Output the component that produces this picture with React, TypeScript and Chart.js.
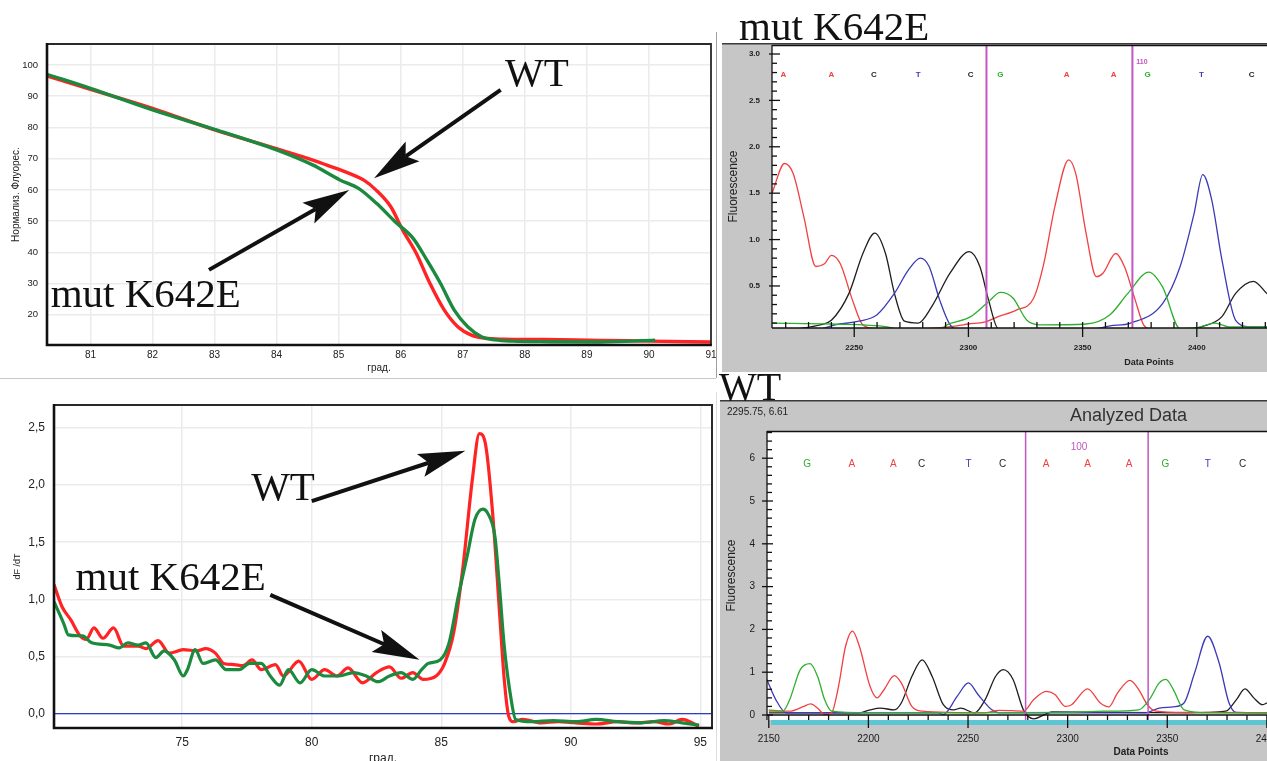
import React, { useEffect, useRef } from "react";
import { Chart, registerables } from "chart.js";
Chart.register(...registerables);

// ---------------- data: melting curves (top-left) ----------------
const meltTempWT = [80.3, 81.0, 82.0, 83.0, 84.0, 84.5, 84.8, 85.17, 85.4, 85.6, 85.84, 86.03, 86.25, 86.47, 86.7, 86.92, 87.14, 87.36, 87.66, 88.3, 89.2, 90.0, 91.0];
const meltFluoWT = [96.5, 92.2, 86.1, 79.2, 73.2, 70.1, 68.0, 65.3, 63.2, 60.0, 54.6, 47.2, 39.7, 30.1, 21.6, 16.2, 13.5, 12.5, 12.2, 12.1, 11.8, 11.6, 11.3];
const meltTempMut = [80.3, 81.0, 82.0, 83.0, 84.0, 84.58, 85.02, 85.32, 85.61, 85.91, 86.2, 86.42, 86.64, 86.86, 87.08, 87.3, 87.52, 87.8, 88.4, 89.2, 90.1];
const meltFluoMut = [97.0, 92.5, 85.6, 79.4, 72.8, 68.0, 63.2, 60.5, 55.7, 49.8, 44.5, 37.6, 30.1, 21.6, 16.2, 13.0, 12.0, 11.6, 11.4, 11.3, 11.9];
const meltTicksX = [81, 82, 83, 84, 85, 86, 87, 88, 89, 90, 91];
const meltTicksY = [20, 30, 40, 50, 60, 70, 80, 90, 100];

// ---------------- data: derivative curves (bottom-left) ----------------
const derivTempWT = [70.05, 70.35, 70.7, 71.06, 71.3, 71.59, 71.94, 72.35, 72.74, 73.3, 73.6, 74.07, 74.5, 75.04, 75.57, 75.9, 76.28, 76.6, 77.0, 77.34, 77.7, 78.05, 78.6, 78.9, 79.5, 80.0, 80.5, 80.97, 81.4, 81.96, 82.5, 83.0, 83.45, 83.9, 84.3, 84.8, 85.13, 85.48, 85.84, 86.2, 86.47, 86.72, 86.98, 87.25, 87.43, 87.6, 87.78, 88.14, 88.85, 89.5, 90.2, 91.0, 91.8, 92.5, 93.2, 93.8, 94.3, 94.95];
const derivValWT = [1.13, 0.94, 0.82, 0.68, 0.65, 0.75, 0.66, 0.75, 0.59, 0.59, 0.57, 0.64, 0.53, 0.56, 0.55, 0.57, 0.53, 0.44, 0.43, 0.42, 0.47, 0.385, 0.43, 0.33, 0.46, 0.30, 0.385, 0.33, 0.40, 0.27, 0.36, 0.41, 0.31, 0.36, 0.30, 0.33, 0.44, 0.71, 1.29, 2.05, 2.45, 2.34, 1.76, 0.88, 0.30, -0.02, -0.07, -0.05, -0.08, -0.07, -0.08, -0.09, -0.07, -0.08, -0.07, -0.09, -0.05, -0.11];
const derivTempMut = [70.05, 70.44, 70.6, 71.15, 71.5, 72.2, 72.56, 72.9, 73.3, 73.6, 73.98, 74.3, 74.7, 75.04, 75.2, 75.5, 75.8, 76.28, 76.7, 77.2, 77.6, 78.05, 78.4, 78.76, 79.1, 79.55, 80.0, 80.5, 81.06, 81.6, 82.1, 82.56, 83.0, 83.45, 83.9, 84.24, 84.5, 84.95, 85.3, 85.66, 86.0, 86.3, 86.6, 86.8, 87.07, 87.25, 87.43, 87.7, 87.87, 88.5, 89.3, 90.2, 90.97, 91.8, 92.7, 93.6, 94.3, 94.95];
const derivValMut = [0.98, 0.78, 0.69, 0.68, 0.62, 0.60, 0.575, 0.62, 0.60, 0.62, 0.49, 0.55, 0.47, 0.33, 0.385, 0.56, 0.44, 0.47, 0.385, 0.385, 0.44, 0.44, 0.33, 0.25, 0.385, 0.27, 0.385, 0.33, 0.33, 0.36, 0.33, 0.28, 0.33, 0.36, 0.30, 0.385, 0.44, 0.47, 0.62, 1.03, 1.38, 1.70, 1.79, 1.75, 1.55, 1.10, 0.59, 0.12, -0.05, -0.07, -0.06, -0.07, -0.05, -0.07, -0.08, -0.06, -0.08, -0.10];
const derivTicksX = [75, 80, 85, 90, 95];
const derivTicksY = [0, 0.5, 1, 1.5, 2, 2.5];

// ---------------- data: mutant chromatogram (top-right) ----------------
const mutRedPos = [2214, 2219.5, 2223.3, 2227.9, 2233.2, 2237, 2240, 2243.9, 2249.2, 2253.8, 2260, 2280, 2295, 2300, 2307, 2313, 2321, 2328.6, 2333, 2337.8, 2343.9, 2347, 2351.5, 2356, 2359, 2364.5, 2368.3, 2373, 2376.7, 2380];
const mutRedSig = [1.50, 1.82, 1.71, 1.25, 0.71, 0.74, 0.83, 0.74, 0.35, 0.08, 0.04, 0.04, 0.07, 0.09, 0.11, 0.17, 0.24, 0.37, 0.74, 1.35, 1.86, 1.71, 1.07, 0.60, 0.64, 0.85, 0.71, 0.35, 0.08, 0.03];
const mutBlackPos = [2226, 2235, 2240, 2247.7, 2253.8, 2259, 2263.7, 2267.6, 2272, 2278, 2284, 2292, 2300.4, 2305, 2308.8, 2313, 2320, 2398, 2402, 2411, 2417, 2424.8, 2430.6, 2436];
const mutBlackSig = [0.04, 0.08, 0.13, 0.42, 0.85, 1.07, 0.85, 0.42, 0.12, 0.10, 0.28, 0.64, 0.87, 0.71, 0.35, 0.04, 0.02, 0.04, 0.06, 0.17, 0.42, 0.55, 0.42, 0.30];
const mutBluePos = [2236, 2241.6, 2252, 2260, 2267.6, 2273.7, 2279, 2282.8, 2287.4, 2292, 2296, 2355, 2362, 2371, 2385, 2392.7, 2398.8, 2402.6, 2406.5, 2411, 2417, 2423, 2436];
const mutBlueSig = [0.04, 0.08, 0.12, 0.19, 0.42, 0.67, 0.80, 0.71, 0.35, 0.08, 0.03, 0.04, 0.07, 0.10, 0.31, 0.71, 1.28, 1.70, 1.43, 0.78, 0.13, 0.06, 0.06];
const mutGreenPos = [2214, 2240, 2264.5, 2270, 2288, 2290.5, 2301, 2308.8, 2314, 2319.5, 2325.6, 2331.7, 2351.5, 2362, 2369.8, 2379, 2385, 2392.7, 2400, 2408, 2414, 2436];
const mutGreenSig = [0.10, 0.09, 0.06, 0.03, 0.04, 0.08, 0.17, 0.33, 0.43, 0.37, 0.13, 0.08, 0.09, 0.19, 0.42, 0.65, 0.49, 0.04, 0.05, 0.10, 0.06, 0.06];
const mutBases = ["A", "A", "C", "T", "C", "G", "A", "A", "G", "T", "C"];
const mutBasePos = [2219, 2240, 2258.6, 2278, 2301, 2314, 2343, 2363.6, 2378.5, 2402, 2424];
const mutMarkers = [2307.9, 2371.8];
const mutMarkerLabel = "110";
const mutTicksX = [2250, 2300, 2350, 2400];
const mutTicksY = [0.5, 1.0, 1.5, 2.0, 2.5, 3.0];

// ---------------- data: wild-type chromatogram (bottom-right) ----------------
const wtGreenPos = [2150, 2157, 2160.5, 2165.8, 2170.7, 2174.5, 2178, 2181.5, 2200, 2248, 2300, 2318, 2335.6, 2341, 2346, 2349.3, 2353, 2358.4, 2370.7, 2411];
const wtGreenSig = [0.12, 0.09, 0.36, 1.06, 1.20, 0.90, 0.36, 0.09, 0.05, 0.05, 0.06, 0.09, 0.12, 0.36, 0.75, 0.83, 0.60, 0.12, 0.05, 0.05];
const wtRedPos = [2150, 2160.5, 2167.5, 2171, 2174.5, 2178, 2181.5, 2185, 2188.5, 2192, 2195.5, 2200.8, 2204.3, 2207.8, 2213, 2216.5, 2221.8, 2227, 2258, 2265.6, 2277.8, 2283, 2289.2, 2293.6, 2298.9, 2302, 2310, 2316.4, 2320.7, 2325, 2331.3, 2335.6, 2340, 2344.4, 2360, 2411];
const wtRedSig = [0.09, 0.09, 0.20, 0.26, 0.16, 0.01, 0.05, 0.67, 1.60, 1.96, 1.60, 0.67, 0.40, 0.59, 0.92, 0.75, 0.20, 0.09, 0.05, 0.11, 0.09, 0.36, 0.55, 0.48, 0.20, 0.24, 0.61, 0.28, 0.19, 0.51, 0.81, 0.60, 0.24, 0.09, 0.06, 0.05];
const wtBlackPos = [2150, 2195.5, 2200.8, 2206, 2213, 2216.5, 2221.8, 2227, 2232, 2237.6, 2242.8, 2246.3, 2253.3, 2258.6, 2263.8, 2267.7, 2272.6, 2277.8, 2283, 2288.4, 2292, 2360, 2379.4, 2384.7, 2389, 2393.4, 2397.8, 2400, 2405];
const wtBlackSig = [0.05, 0.05, 0.12, 0.16, 0.12, 0.28, 0.90, 1.29, 0.90, 0.24, 0.12, 0.16, 0.05, 0.36, 0.90, 1.06, 0.83, 0.12, -0.09, 0.01, 0.07, 0.05, 0.09, 0.36, 0.61, 0.40, 0.24, 0.28, 0.35];
const wtBluePos = [2149, 2153.5, 2158.8, 2235, 2237.6, 2244.6, 2250.2, 2255, 2262, 2265.6, 2339, 2346, 2353, 2358.4, 2363.7, 2370.3, 2376, 2381, 2384.7, 2411];
const wtBlueSig = [0.83, 0.36, 0.05, 0.05, 0.01, 0.44, 0.75, 0.48, 0.12, 0.05, 0.05, 0.16, 0.19, 0.28, 0.98, 1.84, 1.22, 0.28, 0.06, 0.05];
const wtBases = ["G", "A", "A", "C", "T", "C", "A", "A", "A", "G", "T", "C"];
const wtBasePos = [2169.2, 2191.7, 2212.5, 2226.7, 2250.2, 2267.3, 2289.2, 2310, 2330.8, 2349, 2370.3, 2387.8];
const wtMarkers = [2278.9, 2340.4];
const wtMarkerLabel = "100";
const wtTicksX = [2150, 2200, 2250, 2300, 2350, 2400];
const wtTicksY = [0, 1, 2, 3, 4, 5, 6];

// ---------------- styles ----------------
const SANS = '"Liberation Sans", Arial, sans-serif';
const SERIF = '"Liberation Serif", "Times New Roman", serif';
const MELT_GREEN = "#1b8a3e";
const MELT_RED = "#ff2323";
const CH_RED = "#f24040";
const CH_BLACK = "#1e1e1e";
const CH_BLUE = "#3b3bb8";
const CH_GREEN = "#2db02d";
const MAGENTA = "#c157c1";
const BASE_COLORS: Record<string, string> = { A: CH_RED, C: CH_BLACK, G: CH_GREEN, T: CH_BLUE };

const toPoints = (xs: number[], ys: number[]) => xs.map((x, i) => ({ x, y: ys[i] }));
const trace = (xs: number[], ys: number[], color: string, width: number) => ({
  data: toPoints(xs, ys),
  borderColor: color,
  backgroundColor: color,
  borderWidth: width,
  pointRadius: 0,
  cubicInterpolationMode: "monotone",
  fill: false,
});

function line(ctx: CanvasRenderingContext2D, x1: number, y1: number, x2: number, y2: number) {
  ctx.beginPath();
  ctx.moveTo(x1, y1);
  ctx.lineTo(x2, y2);
  ctx.stroke();
}

function drawArrow(ctx: CanvasRenderingContext2D, x1: number, y1: number, x2: number, y2: number, head: number, halfW: number, shaft: number) {
  const dx = x2 - x1, dy = y2 - y1;
  const len = Math.hypot(dx, dy);
  const ux = dx / len, uy = dy / len;
  const px = -uy, py = ux;
  const bx = x2 - ux * head, by = y2 - uy * head;
  const nx = x2 - ux * head * 0.82, ny = y2 - uy * head * 0.82;
  ctx.save();
  ctx.strokeStyle = "#111";
  ctx.fillStyle = "#111";
  ctx.lineWidth = shaft;
  line(ctx, x1, y1, nx, ny);
  ctx.beginPath();
  ctx.moveTo(x2, y2);
  ctx.lineTo(bx + px * halfW, by + py * halfW);
  ctx.lineTo(nx, ny);
  ctx.lineTo(bx - px * halfW, by - py * halfW);
  ctx.closePath();
  ctx.fill();
  ctx.restore();
}

// frame around plot area (top-left / bottom-left)
const framePlugin = (thick: number, thin: number) => ({
  id: "frame",
  afterDatasetsDraw(chart: any) {
    const { ctx, chartArea: a } = chart;
    ctx.save();
    ctx.strokeStyle = "#2a2a2a";
    ctx.lineWidth = thin;
    ctx.beginPath();
    ctx.moveTo(a.left, a.top);
    ctx.lineTo(a.right, a.top);
    ctx.lineTo(a.right, a.bottom);
    ctx.stroke();
    ctx.strokeStyle = "#111";
    ctx.lineWidth = thick;
    ctx.beginPath();
    ctx.moveTo(a.left, a.top - thin / 2);
    ctx.lineTo(a.left, a.bottom);
    ctx.lineTo(a.right + thin / 2, a.bottom);
    ctx.stroke();
    ctx.restore();
  },
});

type Note = { text: string; x: number; y: number };
type Arrow = { x1: number; y1: number; x2: number; y2: number };
const notesPlugin = (texts: Note[], arrows: Arrow[], hlines: { value: number; color: string; width: number }[]) => ({
  id: "notes",
  beforeDatasetsDraw(chart: any) {
    const { ctx, chartArea: a, scales } = chart;
    hlines.forEach((h) => {
      const py = scales.y.getPixelForValue(h.value);
      ctx.save();
      ctx.strokeStyle = h.color;
      ctx.lineWidth = h.width;
      line(ctx, a.left, py, a.right, py);
      ctx.restore();
    });
  },
  afterDatasetsDraw(chart: any) {
    const { ctx, scales } = chart;
    const { x, y } = scales;
    texts.forEach((t) => {
      ctx.save();
      ctx.font = `41px ${SERIF}`;
      ctx.fillStyle = "#111";
      ctx.textBaseline = "alphabetic";
      ctx.textAlign = "left";
      ctx.fillText(t.text, x.getPixelForValue(t.x), y.getPixelForValue(t.y));
      ctx.restore();
    });
    arrows.forEach((ar) =>
      drawArrow(ctx, x.getPixelForValue(ar.x1), y.getPixelForValue(ar.y1), x.getPixelForValue(ar.x2), y.getPixelForValue(ar.y2), 47, 12, 4)
    );
  },
});

type ChromaCfg = {
  bases: string[];
  basePos: number[];
  baseY: number;
  baseFont: string;
  markers: number[];
  markerWidth: number;
  markerLabel: string;
  markerLabelX: number;
  markerLabelY: number;
  markerLabelFont: string;
  markerLabelAlign: CanvasTextAlign;
  yMinorStep: number;
  yMajorStep: number;
  yMinIn: number;
  yMajOut: number;
  yMajIn: number;
  xMinorStart: number;
  xMinorStep: number;
  xMajorStep: number;
  xMinUp: number;
  xMinDown: number;
  xMajUp: number;
  xMajDown: number;
  xAxisAt: number | null;
  band: string | null;
};

const chromaPlugin = (c: ChromaCfg) => ({
  id: "chroma",
  beforeDraw(chart: any) {
    const { ctx, chartArea: a, width, height } = chart;
    ctx.save();
    ctx.fillStyle = "#c6c6c6";
    ctx.fillRect(0, 0, width, height);
    ctx.fillStyle = "#ffffff";
    ctx.fillRect(a.left, a.top, a.right - a.left, a.bottom - a.top);
    if (c.band) {
      ctx.fillStyle = c.band;
      ctx.fillRect(a.left + 4, a.bottom, a.right - a.left, 5);
    }
    ctx.strokeStyle = "#3a3a3a";
    ctx.lineWidth = 1.6;
    line(ctx, 0, 0.8, width, 0.8);
    ctx.restore();
  },
  afterDatasetsDraw(chart: any) {
    const { ctx, chartArea: a, scales } = chart;
    const { x, y } = scales;
    ctx.save();
    // marker lines
    ctx.strokeStyle = MAGENTA;
    ctx.lineWidth = c.markerWidth;
    c.markers.forEach((m) => {
      const px = x.getPixelForValue(m);
      line(ctx, px, a.top, px, a.bottom);
    });
    ctx.fillStyle = MAGENTA;
    ctx.font = c.markerLabelFont;
    ctx.textAlign = c.markerLabelAlign;
    ctx.textBaseline = "middle";
    ctx.fillText(c.markerLabel, x.getPixelForValue(c.markerLabelX), y.getPixelForValue(c.markerLabelY));
    // base calls
    ctx.font = c.baseFont;
    ctx.textAlign = "center";
    c.bases.forEach((b, i) => {
      ctx.fillStyle = BASE_COLORS[b];
      ctx.fillText(b, x.getPixelForValue(c.basePos[i]), y.getPixelForValue(c.baseY));
    });
    // axes
    ctx.strokeStyle = "#111";
    ctx.lineWidth = 1.3;
    const y0 = c.xAxisAt === null ? a.bottom : y.getPixelForValue(c.xAxisAt);
    line(ctx, a.left, a.top, a.left, Math.max(y0, a.bottom));
    line(ctx, a.left, a.top + 0.5, a.right, a.top + 0.5);
    for (let i = 1; ; i++) {
      const v = i * c.yMinorStep;
      if (v > y.max) break;
      const p = y.getPixelForValue(v);
      const r = v / c.yMajorStep;
      const major = Math.abs(r - Math.round(r)) < 1e-6;
      if (major) line(ctx, a.left - c.yMajOut, p, a.left + c.yMajIn, p);
      else line(ctx, a.left, p, a.left + c.yMinIn, p);
    }
    if (c.xAxisAt !== null) line(ctx, a.left - c.yMajOut, y0, a.left + c.yMajIn, y0);
    line(ctx, a.left, y0, a.right, y0);
    for (let i = 0; ; i++) {
      const v = c.xMinorStart + i * c.xMinorStep;
      const p = x.getPixelForValue(v);
      if (p > a.right + 1) break;
      const r = v / c.xMajorStep;
      const major = Math.abs(r - Math.round(r)) < 1e-6;
      if (major) line(ctx, p, y0 - c.xMajUp, p, y0 + c.xMajDown);
      else line(ctx, p, y0 - c.xMinUp, p, y0 + c.xMinDown);
    }
    ctx.restore();
  },
});

const fixedTicks = (vals: number[]) => (s: any) => {
  s.ticks = vals.map((v) => ({ value: v }));
};
const fixY = (w: number) => (s: any) => {
  s.width = w;
  s.paddingTop = 0;
  s.paddingBottom = 0;
};
const fixX = (h: number) => (s: any) => {
  s.height = h;
  s.paddingLeft = 0;
  s.paddingRight = 0;
};
const plainNumber = (v: number) => String(v);

const baseOptions = (padding: any) => ({
  responsive: false,
  animation: false,
  events: [],
  layout: { padding },
  plugins: { legend: { display: false }, tooltip: { enabled: false } },
});

// ---------------- configs ----------------
const meltConfig = () => ({
  type: "line",
  data: { datasets: [trace(meltTempMut, meltFluoMut, MELT_GREEN, 3.4), trace(meltTempWT, meltFluoWT, MELT_RED, 3.4)] },
  options: {
    ...baseOptions({ left: 0, top: 14, right: 9, bottom: 0 }),
    scales: {
      x: {
        type: "linear", min: 80.3, max: 91,
        afterBuildTicks: fixedTicks(meltTicksX), afterFit: fixX(33),
        grid: { color: "#ebebeb", lineWidth: 1.5, drawTicks: false }, border: { display: false },
        ticks: { padding: 4, autoSkip: false, maxRotation: 0, color: "#222", font: { family: SANS, size: 10 }, callback: plainNumber },
        title: { display: true, text: "град.", color: "#222", font: { family: SANS, size: 10 }, padding: { top: 0, bottom: 4 } },
      },
      y: {
        type: "linear", min: 10.35, max: 106.7,
        afterBuildTicks: fixedTicks(meltTicksY), afterFit: fixY(47),
        grid: { color: "#ebebeb", lineWidth: 1.5, drawTicks: false }, border: { display: false },
        ticks: { padding: 9, color: "#222", font: { family: SANS, size: 9.5 }, callback: plainNumber },
        title: { display: true, text: "Нормализ. Флуорес.", color: "#222", font: { family: SANS, size: 10 }, padding: { top: 10, bottom: 0 } },
      },
    },
  },
  plugins: [
    framePlugin(2.6, 1.8),
    notesPlugin(
      [{ text: "WT", x: 87.68, y: 93.1 }, { text: "mut K642E", x: 80.36, y: 22.6 }],
      [{ x1: 87.61, y1: 92.0, x2: 85.57, y2: 63.7 }, { x1: 82.91, y1: 34.4, x2: 85.17, y2: 60.0 }],
      []
    ),
  ],
});

const derivConfig = () => ({
  type: "line",
  data: { datasets: [trace(derivTempMut, derivValMut, MELT_GREEN, 3.2), trace(derivTempWT, derivValWT, MELT_RED, 3.2)] },
  options: {
    ...baseOptions({ left: 0, top: 20, right: 8, bottom: 0 }),
    scales: {
      x: {
        type: "linear", min: 70.05, max: 95.45,
        afterBuildTicks: fixedTicks(derivTicksX), afterFit: fixX(39),
        grid: { color: "#ebebeb", lineWidth: 1.5, drawTicks: false }, border: { display: false },
        ticks: { padding: 7, autoSkip: false, maxRotation: 0, color: "#222", font: { family: SANS, size: 12 }, callback: plainNumber },
        title: { display: true, text: "град.", color: "#222", font: { family: SANS, size: 12 }, padding: { top: 0, bottom: 1 } },
      },
      y: {
        type: "linear", min: -0.125, max: 2.7,
        afterBuildTicks: fixedTicks(derivTicksY), afterFit: fixY(54),
        grid: { color: "#ebebeb", lineWidth: 1.5, drawTicks: false }, border: { display: false },
        ticks: { padding: 9, color: "#222", font: { family: SANS, size: 12 }, callback: (v: number) => v.toFixed(1).replace(".", ",") },
        title: { display: true, text: "dF /dT", color: "#222", font: { family: SANS, size: 9 }, padding: { top: 12.5, bottom: 0 } },
      },
    },
  },
  plugins: [
    framePlugin(2.6, 2),
    notesPlugin(
      [{ text: "WT", x: 77.66, y: 1.873 }, { text: "mut K642E", x: 70.88, y: 1.085 }],
      [{ x1: 80.0, y1: 1.86, x2: 85.93, y2: 2.3 }, { x1: 78.4, y1: 1.04, x2: 84.16, y2: 0.473 }],
      [{ value: 0, color: "#2b3fc4", width: 1.3 }]
    ),
  ],
});

const mutChromaConfig = () => ({
  type: "line",
  data: {
    datasets: [
      trace(mutGreenPos, mutGreenSig, CH_GREEN, 1.3),
      trace(mutBluePos, mutBlueSig, CH_BLUE, 1.3),
      trace(mutBlackPos, mutBlackSig, CH_BLACK, 1.3),
      trace(mutRedPos, mutRedSig, CH_RED, 1.3),
    ],
  },
  options: {
    ...baseOptions({ left: 0, top: 2, right: 0, bottom: 0 }),
    scales: {
      x: {
        type: "linear", min: 2214, max: 2440.8,
        afterBuildTicks: fixedTicks(mutTicksX), afterFit: fixX(44),
        grid: { display: false, drawTicks: false }, border: { display: false },
        ticks: { padding: 15, autoSkip: false, maxRotation: 0, color: "#222", font: { family: SANS, size: 8, weight: "bold" }, callback: plainNumber },
      },
      y: {
        type: "linear", min: 0.047, max: 3.097,
        afterBuildTicks: fixedTicks(mutTicksY), afterFit: fixY(50),
        grid: { display: false, drawTicks: false }, border: { display: false },
        ticks: { padding: 12, color: "#222", font: { family: SANS, size: 8, weight: "bold" }, callback: (v: number) => v.toFixed(1) },
        title: { display: true, text: "Fluorescence", color: "#222", font: { family: SANS, size: 12 }, padding: { top: 4.8, bottom: 0 } },
      },
    },
  },
  plugins: [
    chromaPlugin({
      bases: mutBases, basePos: mutBasePos, baseY: 2.78, baseFont: `bold 8px ${SANS}`,
      markers: mutMarkers, markerWidth: 2, markerLabel: mutMarkerLabel, markerLabelX: 2373.5, markerLabelY: 2.917,
      markerLabelFont: `bold 7px ${SANS}`, markerLabelAlign: "left",
      yMinorStep: 0.1, yMajorStep: 0.5, yMinIn: 5, yMajOut: 3, yMajIn: 8,
      xMinorStart: 2220, xMinorStep: 10, xMajorStep: 50, xMinUp: 6, xMinDown: 0, xMajUp: 6, xMajDown: 9,
      xAxisAt: null, band: null,
    }),
  ],
});

const wtChromaConfig = () => ({
  type: "line",
  data: {
    datasets: [
      trace(wtGreenPos, wtGreenSig, CH_GREEN, 1.3),
      trace(wtRedPos, wtRedSig, CH_RED, 1.3),
      trace(wtBluePos, wtBlueSig, CH_BLUE, 1.3),
      trace(wtBlackPos, wtBlackSig, CH_BLACK, 1.3),
    ],
  },
  options: {
    ...baseOptions({ left: 0, top: 31, right: 0, bottom: 0 }),
    scales: {
      x: {
        type: "linear", min: 2149.1, max: 2411.6,
        afterBuildTicks: fixedTicks(wtTicksX), afterFit: fixX(41),
        grid: { display: false, drawTicks: false }, border: { display: false },
        ticks: { padding: 13, autoSkip: false, maxRotation: 0, color: "#1a1a1a", font: { family: SANS, size: 10 }, callback: plainNumber },
      },
      y: {
        type: "linear", min: -0.117, max: 6.636,
        afterBuildTicks: fixedTicks(wtTicksY), afterFit: fixY(47),
        grid: { display: false, drawTicks: false }, border: { display: false },
        ticks: { padding: 12, color: "#1a1a1a", font: { family: SANS, size: 10 }, callback: plainNumber },
        title: { display: true, text: "Fluorescence", color: "#222", font: { family: SANS, size: 12 }, padding: { top: 4.8, bottom: 0 } },
      },
    },
  },
  plugins: [
    chromaPlugin({
      bases: wtBases, basePos: wtBasePos, baseY: 5.85, baseFont: `10px ${SANS}`,
      markers: wtMarkers, markerWidth: 1.5, markerLabel: wtMarkerLabel, markerLabelX: 2305.7, markerLabelY: 6.26,
      markerLabelFont: `10px ${SANS}`, markerLabelAlign: "center",
      yMinorStep: 0.2, yMajorStep: 1, yMinIn: 5, yMajOut: 5, yMajIn: 6,
      xMinorStart: 2150, xMinorStep: 10, xMajorStep: 50, xMinUp: 0, xMinDown: 5, xMajUp: 0, xMajDown: 13,
      xAxisAt: 0, band: "#5cc6d4",
    }),
  ],
});

function ChartCanvas({ left, top, width, height, config }: { left: number; top: number; width: number; height: number; config: () => any }) {
  const ref = useRef<HTMLCanvasElement>(null);
  useEffect(() => {
    const chart = new Chart(ref.current as HTMLCanvasElement, config());
    return () => chart.destroy();
  }, []);
  return <canvas ref={ref} width={width} height={height} style={{ position: "absolute", left, top, width, height }} />;
}

const abs = (left: number, top: number, extra: any = {}) => ({ position: "absolute" as const, left, top, lineHeight: 1, whiteSpace: "nowrap" as const, ...extra });

export default function App() {
  return (
    <div style={{ position: "fixed", left: 0, top: 0, width: 1267, height: 761, overflow: "hidden", background: "#fff", fontFamily: SANS }}>
      <div style={{ position: "absolute", left: 0, top: 378, width: 716, height: 1, background: "#c9c9c0" }} />
      <div style={{ position: "absolute", left: 716, top: 32, width: 1, height: 346, background: "#a0a0a0" }} />
      <div style={{ position: "absolute", left: 716, top: 392, width: 1, height: 369, background: "#dddddd" }} />
      <ChartCanvas left={0} top={30} width={720} height={348} config={meltConfig} />
      <ChartCanvas left={0} top={385} width={720} height={382} config={derivConfig} />
      <ChartCanvas left={722} top={43} width={568} height={329} config={mutChromaConfig} />
      <ChartCanvas left={720} top={400} width={570} height={361} config={wtChromaConfig} />
      <div style={abs(739, 5.7, { fontFamily: SERIF, fontSize: 41, color: "#111" })}>mut K642E</div>
      <div style={abs(719, 366.5, { fontFamily: SERIF, fontSize: 40, color: "#111" })}>WT</div>
      <div style={abs(727, 407, { fontSize: 10, color: "#222" })}>2295.75, 6.61</div>
      <div style={abs(1070, 406, { fontSize: 18, color: "#333" })}>Analyzed Data</div>
      <div style={abs(1099, 357.6, { width: 100, textAlign: "center", fontSize: 9, fontWeight: "bold", color: "#222" })}>Data Points</div>
      <div style={abs(1091, 747, { width: 100, textAlign: "center", fontSize: 10, fontWeight: "bold", color: "#222" })}>Data Points</div>
    </div>
  );
}
